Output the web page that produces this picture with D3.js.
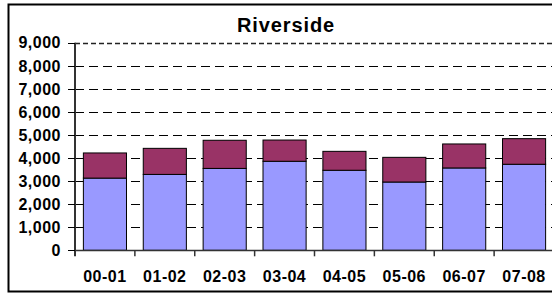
<!DOCTYPE html>
<html>
<head>
<meta charset="utf-8">
<script src="https://d3js.org/d3.v7.min.js"></script>
<style>
  body { margin: 0; background: #fff; }
  text { font-family: "Liberation Sans", Arial, sans-serif; font-weight: bold; fill: #000; }
</style>
</head>
<body>
<svg width="552" height="293"></svg>
<script>
// school years on the x axis
var years = ["00-01", "01-02", "02-03", "03-04", "04-05", "05-06", "06-07", "07-08"];
// lower (blue) and upper (maroon) parts of each stack
var lowerPart = [3130, 3290, 3550, 3860, 3470, 2960, 3570, 3730];
var upperPart = [1090, 1130, 1220, 920, 820, 1070, 1040, 1110];
var yTicks = [0, 1000, 2000, 3000, 4000, 5000, 6000, 7000, 8000, 9000];

var svg = d3.select("svg");

// plot area edges (the right edge runs past the window)
var plotLeft = 75, plotRight = 554, plotTop = 42.7, plotBottom = 250.3;

var x = d3.scaleBand().domain(years).range([plotLeft, plotRight])
    .paddingInner(0.28).paddingOuter(0.14);
var y = d3.scaleLinear().domain([0, 9000]).range([plotBottom, plotTop]);

// outer frame (right edge is cut off in the original)
svg.append("path")
    .attr("d", "M560,4.5 H8.5 V291.5 H560")
    .attr("fill", "none").attr("stroke", "#000").attr("stroke-width", 2);

// title
svg.append("text")
    .attr("x", 286).attr("y", 32.3)
    .attr("text-anchor", "middle")
    .style("font-size", "20px").style("letter-spacing", "0.9px")
    .text("Riverside");

// dashed gridlines
svg.selectAll("line.grid")
    .data(yTicks.filter(function(d) { return d > 0 && d < 9000; }))
  .enter().append("line")
    .attr("class", "grid")
    .attr("x1", plotLeft).attr("x2", 552)
    .attr("y1", function(d) { return Math.round(y(d)) + 0.5; })
    .attr("y2", function(d) { return Math.round(y(d)) + 0.5; })
    .attr("stroke", "#000").attr("stroke-dasharray", "9,5");

// top line of the plot area
svg.append("line")
    .attr("x1", plotLeft).attr("x2", 552)
    .attr("y1", Math.round(y(9000)) + 0.5).attr("y2", Math.round(y(9000)) + 0.5)
    .attr("stroke", "#222").attr("stroke-width", 1.5).attr("stroke-dasharray", "5,3");

// stacked bars
var stackData = years.map(function(d, i) {
  return { year: d, low: lowerPart[i], high: upperPart[i] };
});

svg.selectAll("rect.low")
    .data(stackData)
  .enter().append("rect")
    .attr("class", "low")
    .attr("x", function(d) { return x(d.year); })
    .attr("y", function(d) { return y(d.low); })
    .attr("width", x.bandwidth())
    .attr("height", function(d) { return y(0) - y(d.low); })
    .attr("fill", "#9999FF").attr("stroke", "#000").attr("stroke-width", 1);

svg.selectAll("rect.high")
    .data(stackData)
  .enter().append("rect")
    .attr("class", "high")
    .attr("x", function(d) { return x(d.year); })
    .attr("y", function(d) { return y(d.low + d.high); })
    .attr("width", x.bandwidth())
    .attr("height", function(d) { return y(d.low) - y(d.low + d.high); })
    .attr("fill", "#993366").attr("stroke", "#000").attr("stroke-width", 1);

// y axis line and ticks
svg.append("line")
    .attr("x1", plotLeft).attr("x2", plotLeft).attr("y1", plotTop).attr("y2", plotBottom + 6)
    .attr("stroke", "#333").attr("stroke-width", 2);

svg.selectAll("line.ytick")
    .data(yTicks)
  .enter().append("line")
    .attr("x1", plotLeft - 7).attr("x2", plotLeft)
    .attr("y1", function(d) { return Math.round(y(d)) + 0.5; })
    .attr("y2", function(d) { return Math.round(y(d)) + 0.5; })
    .attr("stroke", "#000");

svg.selectAll("text.ylab")
    .data(yTicks)
  .enter().append("text")
    .attr("x", 61).attr("y", function(d) { return y(d); })
    .attr("dy", "0.36em")
    .attr("text-anchor", "end")
    .style("font-size", "16px").style("letter-spacing", "0.5px")
    .text(function(d) { return d3.format(",")(d); });

// x axis line and ticks at category boundaries
svg.append("line")
    .attr("x1", plotLeft).attr("x2", 552)
    .attr("y1", Math.round(plotBottom) + 0.5).attr("y2", Math.round(plotBottom) + 0.5)
    .attr("stroke", "#333").attr("stroke-width", 1.5);

svg.selectAll("line.xtick")
    .data(years)
  .enter().append("line")
    .attr("x1", function(d) { return x(d) + x.bandwidth() / 2 + x.step() / 2; })
    .attr("x2", function(d) { return x(d) + x.bandwidth() / 2 + x.step() / 2; })
    .attr("y1", plotBottom).attr("y2", plotBottom + 6)
    .attr("stroke", "#333").attr("stroke-width", 1.5);

svg.selectAll("text.xlab")
    .data(years)
  .enter().append("text")
    .attr("x", function(d) { return x(d) + x.bandwidth() / 2; })
    .attr("y", 281.5)
    .attr("text-anchor", "middle")
    .style("font-size", "16px").style("letter-spacing", "0.5px")
    .text(function(d) { return d; });
</script>
</body>
</html>
